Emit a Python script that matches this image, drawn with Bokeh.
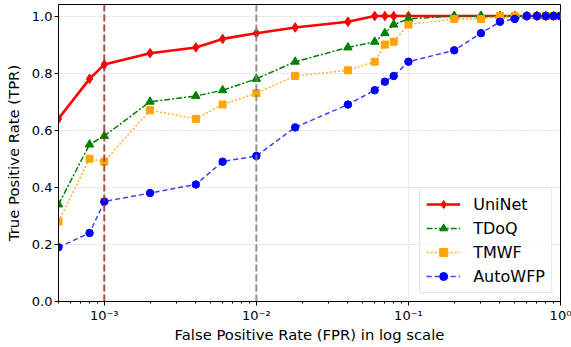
import math
from bokeh.plotting import figure
from bokeh.models import FixedTicker, CustomJSTickFormatter, PrintfTickFormatter, Span, Range1d
from bokeh.embed import file_html
from bokeh.resources import INLINE

# ---- data ----
fpr = [0.0005, 0.0008, 0.001, 0.002, 0.004, 0.006, 0.01, 0.018, 0.04, 0.06, 0.07,
       0.08, 0.1, 0.2, 0.3, 0.4, 0.5, 0.6, 0.7, 0.8, 0.9, 1.0]
uninet = [0.64, 0.78, 0.83, 0.87, 0.89, 0.92, 0.94, 0.96, 0.98, 1.0, 1.0,
          1.0, 1.0, 1.0, 1.0, 1.0, 1.0, 1.0, 1.0, 1.0, 1.0, 1.0]
tdoq = [0.34, 0.55, 0.58, 0.70, 0.72, 0.74, 0.78, 0.84, 0.89, 0.91, 0.94,
        0.97, 0.99, 1.0, 1.0, 1.0, 1.0, 1.0, 1.0, 1.0, 1.0, 1.0]
tmwf = [0.28, 0.50, 0.49, 0.67, 0.64, 0.69, 0.73, 0.79, 0.81, 0.84, 0.90,
        0.91, 0.97, 0.99, 0.99, 1.0, 1.0, 1.0, 1.0, 1.0, 1.0, 1.0]
autowfp = [0.19, 0.24, 0.35, 0.38, 0.41, 0.49, 0.51, 0.61, 0.69, 0.74, 0.77,
           0.79, 0.84, 0.88, 0.94, 0.98, 0.99, 1.0, 1.0, 1.0, 1.0, 1.0]

x_major_ticks = [0.001, 0.01, 0.1, 1.0]
x_minor_ticks = [m * 10.0 ** e for e in (-4, -3, -2, -1) for m in range(2, 10)
                 if 0.0005 <= m * 10.0 ** e < 1.0]
y_ticks = [0.0, 0.2, 0.4, 0.6, 0.8, 1.0]
threshold_lines = [0.001, 0.01]

FONT = "DejaVu Sans"

p = figure(width=571, height=347, x_axis_type="log",
           x_range=Range1d(0.0005, 1.0), y_range=Range1d(0.0, 1.0405),
           output_backend="svg", toolbar_location=None,
           x_axis_label="False Positive Rate (FPR) in log scale",
           y_axis_label="True Positive Rate (TPR)")
p.min_border_left = 58
p.min_border_right = 11
p.min_border_top = 4
p.min_border_bottom = 46
p.outline_line_color = "black"
p.outline_line_width = 1
p.outline_line_alpha = 1
p.background_fill_color = "white"
p.border_fill_color = "white"

# series
p.line(fpr, uninet, line_color="red", line_width=2.6, legend_label="UniNet")
p.scatter(fpr, uninet, marker="diamond", size=9.5,
          fill_color="red", line_color="red", legend_label="UniNet")

p.line(fpr, tdoq, line_color="green", line_width=1.5, line_dash="6 2 2 2",
       legend_label="TDoQ")
p.scatter(fpr, tdoq, marker="triangle", size=8.5, fill_color="green",
          line_color="green", legend_label="TDoQ")

p.line(fpr, tmwf, line_color="orange", line_width=1.5, line_dash="2 2",
       line_alpha=0.85, legend_label="TMWF")
p.scatter(fpr, tmwf, marker="square", size=7, fill_color="orange",
          line_color="orange", legend_label="TMWF")

p.line(fpr, autowfp, line_color="blue", line_width=1.5, line_dash="5 3",
       line_alpha=0.75, legend_label="AutoWFP")
p.scatter(fpr, autowfp, marker="circle", size=7.5, fill_color="blue",
          line_color="blue", legend_label="AutoWFP")

# threshold lines
p.add_layout(Span(location=threshold_lines[0], dimension="height", line_color="#a52a2a",
                  line_width=2, line_dash="7 3", line_alpha=0.85))
p.add_layout(Span(location=threshold_lines[1], dimension="height", line_color="gray",
                  line_width=2, line_dash="7 3", line_alpha=0.85))

# axes
p.xaxis.ticker = FixedTicker(ticks=x_major_ticks, minor_ticks=x_minor_ticks)
p.xaxis.formatter = CustomJSTickFormatter(code="""
const sup = {"-": "\u207b", "0": "\u2070", "1": "\u00b9", "2": "\u00b2", "3": "\u00b3",
             "4": "\u2074", "5": "\u2075", "6": "\u2076", "7": "\u2077", "8": "\u2078", "9": "\u2079"};
const e = Math.round(Math.log10(tick));
return "10" + String(e).split("").map(c => sup[c]).join("");
""")
p.yaxis.ticker = FixedTicker(ticks=y_ticks, minor_ticks=[])
p.yaxis.formatter = PrintfTickFormatter(format="%.1f")

for ax in (p.xaxis[0], p.yaxis[0]):
    ax.axis_line_color = "black"
    ax.major_tick_line_color = "black"
    ax.minor_tick_line_color = "black"
    ax.major_tick_out = 4
    ax.major_tick_in = 0
    ax.minor_tick_out = 2
    ax.minor_tick_in = 0
    ax.major_label_text_font = FONT
    ax.major_label_text_font_size = "13px"
    ax.major_label_text_color = "black"
    ax.major_label_standoff = 2
    ax.axis_label_text_font = FONT
    ax.axis_label_text_font_size = "14.8px"
    ax.axis_label_text_font_style = "normal"
    ax.axis_label_text_color = "black"
p.xaxis[0].axis_label_standoff = 0
p.yaxis[0].axis_label_standoff = 7

for g in (p.xgrid[0], p.ygrid[0]):
    g.grid_line_color = "#b0b0b0"
    g.grid_line_dash = "1 2"
    g.grid_line_width = 0.8

# legend
lg = p.legend[0]
lg.location = "bottom_right"
lg.margin = 8
lg.label_text_font = FONT
lg.label_text_font_size = "16px"
lg.label_text_color = "black"
lg.glyph_width = 34
lg.glyph_height = 20
lg.label_height = 20
lg.label_standoff = 13
lg.padding = 6
lg.spacing = 4
lg.border_line_color = "#cccccc"
lg.border_line_width = 1
lg.background_fill_alpha = 0.8

open("out.html", "w").write(file_html(p, INLINE))
